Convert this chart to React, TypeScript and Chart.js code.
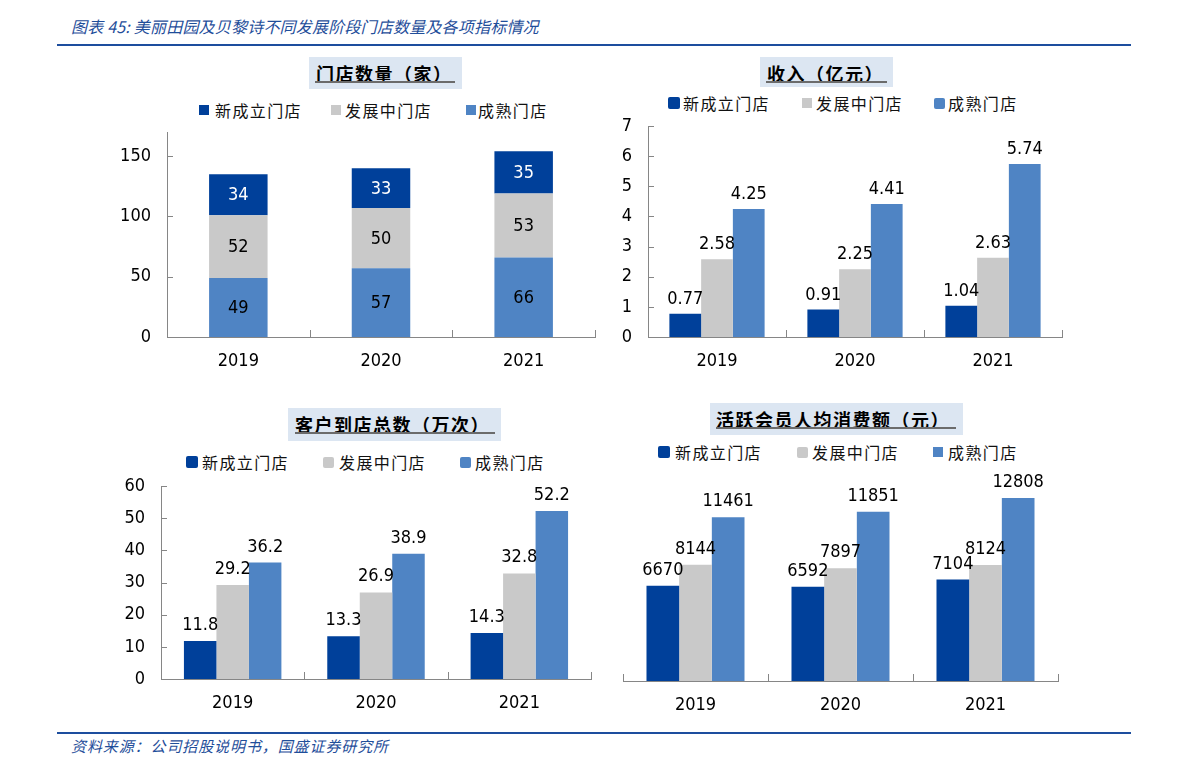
import React, { useEffect, useRef } from "react";
import { Chart, registerables } from "chart.js";

Chart.register(...registerables);

// ---------- data ----------
const years = ["2019", "2020", "2021"];
const seriesNames = ["新成立门店", "发展中门店", "成熟门店"];
const seriesColors = ["#00409a", "#c9c9c9", "#4f84c4"];

const storeNew = [34, 33, 35];
const storeDeveloping = [52, 50, 53];
const storeMature = [49, 57, 66];
const storeTicks = [0, 50, 100, 150];

const revenueNew = [0.77, 0.91, 1.04];
const revenueDeveloping = [2.58, 2.25, 2.63];
const revenueMature = [4.25, 4.41, 5.74];
const revenueTicks = [0, 1, 2, 3, 4, 5, 6, 7];

const visitsNew = [11.8, 13.3, 14.3];
const visitsDeveloping = [29.2, 26.9, 32.8];
const visitsMature = [36.2, 38.9, 52.2];
const visitsTicks = [0, 10, 20, 30, 40, 50, 60];

const spendNew = [6670, 6592, 7104];
const spendDeveloping = [8144, 7897, 8124];
const spendMature = [11461, 11851, 12808];

const headerTitle = "图表 45: 美丽田园及贝黎诗不同发展阶段门店数量及各项指标情况";
const footerText = "资料来源：公司招股说明书，国盛证券研究所";
const panelTitles = ["门店数量（家）", "收入（亿元）", "客户到店总数（万次）", "活跃会员人均消费额（元）"];

// ---------- styles ----------
const NUM_FONT = '"DejaVu Sans Condensed", "Liberation Sans", sans-serif';
const CJK_FONT = '"Noto Sans CJK SC", sans-serif';
const AXIS_COLOR = "#868686";
const NUM_SIZE = 18;

// ---------- plugins ----------
const insideTicks = {
  id: "insideTicks",
  afterDatasetsDraw(chart: any) {
    const { ctx, chartArea } = chart;
    const xs = chart.scales.x;
    const ys = chart.scales.y;
    ctx.save();
    ctx.strokeStyle = AXIS_COLOR;
    ctx.lineWidth = 1;
    ctx.beginPath();
    const n = xs.ticks.length;
    const w = (chartArea.right - chartArea.left) / n;
    for (let i = 0; i <= n; i++) {
      const x = Math.round(chartArea.left + i * w) + 0.5;
      ctx.moveTo(x, chartArea.bottom);
      ctx.lineTo(x, chartArea.bottom - 7);
    }
    if (ys && ys.options.display) {
      ys.ticks.forEach((t: any) => {
        const y = Math.round(ys.getPixelForValue(t.value)) + 0.5;
        ctx.moveTo(chartArea.left, y);
        ctx.lineTo(chartArea.left + 6, y);
      });
    }
    ctx.stroke();
    ctx.restore();
  },
};

const barLabels = {
  id: "barLabels",
  afterDatasetsDraw(chart: any, _args: any, opts: any) {
    if (!opts || !opts.mode) return;
    const { ctx } = chart;
    ctx.save();
    ctx.font = `${opts.size}px ${NUM_FONT}`;
    ctx.textAlign = "center";
    chart.data.datasets.forEach((ds: any, di: number) => {
      const meta = chart.getDatasetMeta(di);
      meta.data.forEach((el: any, i: number) => {
        const v = ds.data[i] as number;
        const text = v.toFixed(opts.decimals);
        if (opts.mode === "stack") {
          ctx.fillStyle = ds.labelColor || "#000";
          ctx.textBaseline = "middle";
          ctx.fillText(text, el.x, (el.y + el.base) / 2 + 1);
        } else {
          ctx.fillStyle = "#000";
          ctx.textBaseline = "alphabetic";
          ctx.fillText(text, el.x, el.y - opts.gap);
        }
      });
    });
    ctx.restore();
  },
};

type Cfg = {
  stacked: boolean;
  datasets: any[];
  max: number;
  ticks: number[] | null;
  yWidth: number;
  xHeight: number;
  padding: any;
  catPct: number;
  barPct: number;
  mode: string;
  decimals: number;
  gap: number;
};

function makeConfig(c: Cfg): any {
  return {
    type: "bar",
    data: { labels: years, datasets: c.datasets },
    plugins: [insideTicks, barLabels],
    options: {
      responsive: false,
      animation: false,
      maintainAspectRatio: false,
      layout: { padding: c.padding },
      datasets: { bar: { categoryPercentage: c.catPct, barPercentage: c.barPct } },
      plugins: {
        legend: { display: false },
        tooltip: { enabled: false },
        barLabels: { mode: c.mode, decimals: c.decimals, gap: c.gap, size: NUM_SIZE },
      },
      scales: {
        x: {
          stacked: c.stacked,
          offset: true,
          grid: { display: false, drawTicks: false },
          border: { display: true, color: AXIS_COLOR, width: 1 },
          ticks: { color: "#000", padding: 14, font: { family: NUM_FONT, size: NUM_SIZE } },
          afterFit: (s: any) => {
            s.height = c.xHeight;
            s.paddingLeft = 0;
            s.paddingRight = 0;
          },
        },
        y: {
          display: c.ticks !== null,
          stacked: c.stacked,
          min: 0,
          max: c.max,
          grid: { display: false, drawTicks: false },
          border: { display: true, color: AXIS_COLOR, width: 1 },
          ticks: { color: "#000", padding: 16, font: { family: NUM_FONT, size: NUM_SIZE } },
          afterBuildTicks: (s: any) => {
            if (c.ticks) s.ticks = c.ticks.map((v) => ({ value: v }));
          },
          afterFit: (s: any) => {
            s.width = c.yWidth;
            s.paddingTop = 0;
            s.paddingBottom = 0;
          },
        },
      },
    },
  };
}

function grouped(a: number[], b: number[], c: number[]) {
  return [a, b, c].map((d, i) => ({
    label: seriesNames[i],
    data: d,
    backgroundColor: seriesColors[i],
    borderWidth: 0,
  }));
}

function stackedSets() {
  const order = [2, 1, 0];
  const vals = [storeNew, storeDeveloping, storeMature];
  return order.map((i) => ({
    label: seriesNames[i],
    data: vals[i],
    backgroundColor: seriesColors[i],
    borderWidth: 0,
    labelColor: i === 0 ? "#fff" : "#000",
  }));
}

// ---------- components ----------
function ChartCanvas(props: { left: number; top: number; width: number; height: number; config: () => any }) {
  const ref = useRef<HTMLCanvasElement>(null);
  useEffect(() => {
    const chart = new Chart(ref.current as HTMLCanvasElement, props.config());
    return () => chart.destroy();
  }, []);
  return (
    <canvas
      ref={ref}
      width={props.width}
      height={props.height}
      style={{ position: "absolute", left: props.left, top: props.top, width: props.width, height: props.height }}
    />
  );
}

function TitleBox(p: {
  text: string;
  box: [number, number, number, number];
  tx: number;
  cy: number;
  ly: number;
  lx1: number;
  lx2: number;
}) {
  const [bx, by, bw, bh] = p.box;
  return (
    <>
      <div style={{ position: "absolute", left: bx, top: by, width: bw, height: bh, background: "#dce6f2" }} />
      <div
        style={{
          position: "absolute",
          left: p.tx,
          top: p.cy - 12,
          height: 24,
          lineHeight: "24px",
          fontFamily: CJK_FONT,
          fontWeight: 700,
          fontSize: 18,
          letterSpacing: 1.5,
          whiteSpace: "nowrap",
          color: "#000",
        }}
      >
        {p.text}
      </div>
      <div style={{ position: "absolute", left: p.lx1, top: p.ly - 1, width: p.lx2 - p.lx1, height: 2, background: "#6b6b6b" }} />
    </>
  );
}

function Legend(p: { cy: number; items: [number, number, number][] }) {
  return (
    <>
      {p.items.map(([bx, bs, tx], i) => (
        <React.Fragment key={i}>
          <div
            style={{
              position: "absolute",
              left: bx,
              top: p.cy - bs / 2,
              width: bs,
              height: bs,
              background: seriesColors[i],
              borderRadius: bs > 10 ? 2 : 0,
            }}
          />
          <div
            style={{
              position: "absolute",
              left: tx,
              top: p.cy - 10,
              height: 20,
              lineHeight: "20px",
              fontFamily: CJK_FONT,
              fontSize: 16,
              letterSpacing: 1.4,
              whiteSpace: "nowrap",
              color: "#111",
            }}
          >
            {seriesNames[i]}
          </div>
        </React.Fragment>
      ))}
    </>
  );
}

export default function App() {
  return (
    <div style={{ position: "absolute", left: 0, top: 0, width: 1191, height: 770, background: "#fff", overflow: "hidden" }}>
      {/* header */}
      <div
        style={{
          position: "absolute",
          left: 71,
          top: 14,
          height: 24,
          lineHeight: "24px",
          fontFamily: CJK_FONT,
          fontStyle: "italic",
          fontSize: 16,
          letterSpacing: 0.2,
          color: "#1f4e9a",
          whiteSpace: "nowrap",
        }}
      >
        {headerTitle}
      </div>
      <div style={{ position: "absolute", left: 57, top: 44, width: 1074, height: 2, background: "#1d4e9e" }} />

      {/* footer */}
      <div style={{ position: "absolute", left: 57, top: 732, width: 1074, height: 2, background: "#1d4e9e" }} />
      <div
        style={{
          position: "absolute",
          left: 71,
          top: 734,
          height: 24,
          lineHeight: "24px",
          fontFamily: CJK_FONT,
          fontStyle: "italic",
          fontSize: 15,
          letterSpacing: 0.9,
          color: "#1f4e9a",
          whiteSpace: "nowrap",
        }}
      >
        {footerText}
      </div>

      {/* panel 1 */}
      <TitleBox text={panelTitles[0]} box={[309, 57, 153, 32]} tx={316} cy={73} ly={82} lx1={315} lx2={455} />
      <Legend cy={110} items={[[199, 10, 215], [331, 10, 345], [466, 10, 478]]} />
      <ChartCanvas
        left={100}
        top={120}
        width={500}
        height={260}
        config={() =>
          makeConfig({
            stacked: true,
            datasets: stackedSets(),
            max: 170,
            ticks: storeTicks,
            yWidth: 67,
            xHeight: 43,
            padding: { top: 12, right: 5, left: 0, bottom: 0 },
            catPct: 1,
            barPct: 0.41,
            mode: "stack",
            decimals: 0,
            gap: 0,
          })
        }
      />

      {/* panel 2 */}
      <TitleBox text={panelTitles[1]} box={[760, 57, 133, 30]} tx={767} cy={73} ly={82} lx1={766} lx2={887} />
      <Legend cy={103} items={[[668, 12, 683], [802, 10, 816], [934, 11, 948]]} />
      <ChartCanvas
        left={600}
        top={110}
        width={480}
        height={270}
        config={() =>
          makeConfig({
            stacked: false,
            datasets: grouped(revenueNew, revenueDeveloping, revenueMature),
            max: 7,
            ticks: revenueTicks,
            yWidth: 48,
            xHeight: 43,
            padding: { top: 16, right: 18, left: 0, bottom: 0 },
            catPct: 0.69,
            barPct: 1,
            mode: "top",
            decimals: 2,
            gap: 10,
          })
        }
      />

      {/* panel 3 */}
      <TitleBox text={panelTitles[2]} box={[288, 408, 213, 33]} tx={295} cy={424} ly={433} lx1={295} lx2={495} />
      <Legend cy={462} items={[[186, 12, 202], [323, 11, 339], [460, 11, 475]]} />
      <ChartCanvas
        left={100}
        top={470}
        width={500}
        height={250}
        config={() =>
          makeConfig({
            stacked: false,
            datasets: grouped(visitsNew, visitsDeveloping, visitsMature),
            max: 60,
            ticks: visitsTicks,
            yWidth: 61,
            xHeight: 41,
            padding: { top: 16, right: 9, left: 0, bottom: 0 },
            catPct: 0.68,
            barPct: 1,
            mode: "top",
            decimals: 1,
            gap: 11,
          })
        }
      />

      {/* panel 4 */}
      <TitleBox text={panelTitles[3]} box={[710, 403, 253, 32]} tx={716} cy={419} ly={428} lx1={716} lx2={956} />
      <Legend cy={452} items={[[658, 12, 675], [797, 11, 812], [933, 10, 948]]} />
      <ChartCanvas
        left={600}
        top={470}
        width={480}
        height={250}
        config={() =>
          makeConfig({
            stacked: false,
            datasets: grouped(spendNew, spendDeveloping, spendMature),
            max: 14000,
            ticks: null,
            yWidth: 0,
            xHeight: 39,
            padding: { top: 11, right: 22, left: 23, bottom: 0 },
            catPct: 0.676,
            barPct: 1,
            mode: "top",
            decimals: 0,
            gap: 11,
          })
        }
      />
    </div>
  );
}
